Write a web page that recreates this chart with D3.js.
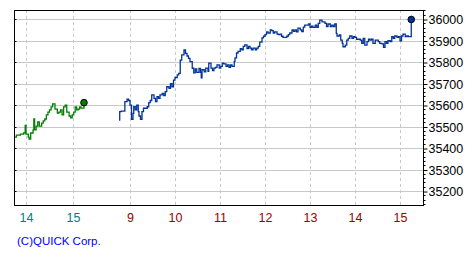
<!DOCTYPE html>
<html><head><meta charset="utf-8">
<script src="https://cdn.jsdelivr.net/npm/d3@7"></script>
<style>body{margin:0;background:#fff}svg{display:block}</style>
</head><body>
<script>
// Previous-day session (green)
const prevTimes = ["13:45","13:48","13:53","13:57","13:59","14:00","14:03","14:04","14:06","14:09","14:10","14:11","14:13","14:15","14:17","14:20","14:22","14:24","14:26","14:28","14:30","14:32","14:34","14:36","14:37","14:40","14:42","14:44","14:46","14:48","14:50","14:52","14:55","14:57","14:59","15:01","15:03","15:05","15:07","15:09","15:11","15:14","15:15"];
const prevValues = [35451,35460,35465,35470,35505,35465,35451,35442,35470,35484,35535,35484,35502,35521,35502,35516,35526,35535,35554,35567,35577,35591,35605,35605,35581,35563,35567,35577,35554,35591,35600,35567,35549,35540,35554,35567,35591,35577,35581,35591,35586,35586,35611];
// Current-day session (blue)
const dayTimes = ["8:45","8:46","8:48","8:53","8:56","8:58","9:00","9:02","9:04","9:05","9:07","9:09","9:11","9:12","9:14","9:16","9:18","9:20","9:23","9:25","9:27","9:29","9:32","9:34","9:36","9:38","9:40","9:43","9:45","9:47","9:49","9:52","9:54","9:56","9:58","10:00","10:03","10:05","10:07","10:09","10:12","10:14","10:16","10:18","10:20","10:23","10:25","10:27","10:29","10:32","10:34","10:35","10:36","10:39","10:41","10:44","10:45","10:48","10:50","10:52","10:54","10:56","10:59","11:01","11:03","11:05","11:08","11:10","11:12","11:14","11:16","11:19","11:20","11:22","11:24","11:27","11:29","11:31","11:33","11:36","11:38","11:40","11:42","11:44","11:47","11:49","11:51","11:53","11:56","11:58","12:00","12:02","12:04","12:07","12:09","12:11","12:13","12:16","12:18","12:20","12:22","12:24","12:27","12:29","12:31","12:33","12:36","12:38","12:40","12:42","12:44","12:47","12:49","12:51","12:53","12:56","12:58","13:00","13:02","13:04","13:07","13:09","13:11","13:13","13:16","13:18","13:20","13:22","13:24","13:27","13:29","13:31","13:33","13:35","13:36","13:39","13:41","13:43","13:44","13:47","13:49","13:51","13:53","13:56","13:58","14:00","14:02","14:04","14:07","14:09","14:11","14:13","14:16","14:18","14:20","14:22","14:24","14:27","14:29","14:31","14:33","14:36","14:38","14:40","14:42","14:44","14:47","14:49","14:51","14:53","14:56","14:58","15:00","15:02","15:04","15:07","15:09","15:11","15:14","15:15"];
const dayValues = [35530,35569,35572,35616,35627,35621,35600,35533,35561,35592,35577,35600,35569,35549,35533,35569,35585,35585,35592,35611,35621,35647,35631,35616,35639,35631,35647,35654,35644,35662,35685,35678,35700,35685,35716,35728,35740,35747,35809,35833,35856,35840,35828,35817,35802,35771,35750,35768,35752,35770,35752,35726,35764,35754,35772,35757,35795,35772,35760,35772,35775,35787,35772,35780,35795,35791,35780,35787,35775,35787,35780,35803,35819,35842,35850,35862,35857,35873,35880,35862,35873,35865,35857,35865,35857,35865,35873,35893,35912,35920,35927,35940,35935,35950,35946,35935,35940,35930,35927,35930,35920,35915,35915,35920,35927,35935,35950,35943,35950,35940,35958,35950,35942,35962,35972,35972,35977,35961,35967,35961,35972,35961,35980,35995,35987,35987,35980,35965,35977,35965,35972,35965,35977,35933,35921,35926,35902,35887,35871,35879,35902,35910,35921,35910,35918,35915,35906,35906,35902,35887,35910,35879,35895,35906,35902,35906,35887,35902,35902,35895,35887,35884,35868,35895,35887,35899,35895,35918,35910,35921,35915,35918,35899,35921,35930,35918,35921,35918,35918,35998];
const yTicks = [35200,35300,35400,35500,35600,35700,35800,35900,36000];
const prevTickTimes = ["14:00","15:00"];
const dayTickTimes = ["9:00","10:00","11:00","12:00","13:00","14:00","15:00"];
const copyright = "(C)QUICK Corp.";

const W = 475, H = 260;
const L = 14, R = 423, T = 10, B = 205;
const toMin = s => { const [h,m] = s.split(":").map(Number); return h*60+m; };
const prevMin = s => toMin(s) - 1440;

const svg = d3.select("body").append("svg").attr("width", W).attr("height", H);

const pw = R - L;
const x = d3.scaleLinear()
  .domain([prevMin("13:45"), prevMin("14:00"), prevMin("15:00"), prevMin("15:15"), toMin("8:45"), toMin("9:00"), toMin("15:00"), toMin("15:15")])
  .range([L, L + pw*0.0293, L + pw*0.1443, L + pw*0.1711, L + pw*0.2567, L + pw*0.2836, L + pw*0.9438, L + pw*0.9713]);
const y = d3.scaleLinear().domain([35135, 36042]).range([B, T]);

// horizontal grid
svg.append("g").selectAll("line").data(yTicks).join("line")
  .attr("x1", L).attr("x2", R)
  .attr("y1", d => Math.round(y(d)) + 0.5).attr("y2", d => Math.round(y(d)) + 0.5)
  .attr("stroke", "#c8c8c8").attr("stroke-width", 1);

// vertical dashed grid
const vt = prevTickTimes.map(prevMin).concat(dayTickTimes.map(toMin));
svg.append("g").selectAll("line").data(vt).join("line")
  .attr("x1", d => Math.round(x(d)) + 0.5).attr("x2", d => Math.round(x(d)) + 0.5)
  .attr("y1", T).attr("y2", B)
  .attr("stroke", "#c8c8c8").attr("stroke-width", 1).attr("stroke-dasharray", "3,3");

// lines
const line = d3.line().x(d => x(d[0])).y(d => y(d[1])).curve(d3.curveStepAfter);
const prevData = prevTimes.map((t,i) => [prevMin(t), prevValues[i]]);
const dayData = dayTimes.map((t,i) => [toMin(t), dayValues[i]]);
svg.append("path").datum(prevData).attr("d", line).attr("fill", "none")
  .attr("stroke", "#008000").attr("stroke-width", 1.3);
svg.append("path").datum(dayData).attr("d", line).attr("fill", "none")
  .attr("stroke", "#003399").attr("stroke-width", 1.3);

// end dots
const pl = prevData[prevData.length-1], dl = dayData[dayData.length-1];
svg.append("circle").attr("cx", x(pl[0])).attr("cy", y(pl[1])).attr("r", 3.3)
  .attr("fill", "#008000").attr("stroke", "#000").attr("stroke-width", 1);
svg.append("circle").attr("cx", x(dl[0])).attr("cy", y(dl[1])).attr("r", 3.3)
  .attr("fill", "#003399").attr("stroke", "#000").attr("stroke-width", 1);

// frame
svg.append("rect").attr("x", L + 0.5).attr("y", T + 0.5).attr("width", R - L).attr("height", B - T)
  .attr("fill", "none").attr("stroke", "#000").attr("stroke-width", 1);

// right axis
const yAxis = d3.axisRight(y).tickValues(yTicks).tickSize(4).tickPadding(1).tickFormat(d3.format("d"));
const ga = svg.append("g").attr("transform", `translate(${R + 0.5},0.5)`).call(yAxis);
ga.select(".domain").remove();
ga.selectAll("text").attr("font-family", "'Liberation Sans Narrow','Liberation Sans',sans-serif")
  .attr("font-size", 12.5).attr("fill", "#000").attr("dy", "0.35em");
const minor = d3.range(35140, 36041, 20).filter(v => v % 100 !== 0);
svg.append("g").selectAll("line").data(minor).join("line")
  .attr("x1", R + 0.5).attr("x2", R + 2.5)
  .attr("y1", d => Math.round(y(d)) + 0.5).attr("y2", d => Math.round(y(d)) + 0.5)
  .attr("stroke", "#000");
// left inner ticks
svg.append("g").selectAll("line").data(yTicks).join("line")
  .attr("x1", L).attr("x2", L + 2.5)
  .attr("y1", d => Math.round(y(d)) + 0.5).attr("y2", d => Math.round(y(d)) + 0.5)
  .attr("stroke", "#000");

// x labels
const xl = svg.append("g").attr("font-family", "'Liberation Sans Narrow','Liberation Sans',sans-serif").attr("font-size", 12.5).attr("text-anchor", "middle");
xl.selectAll("text.p").data(prevTickTimes).join("text").attr("class", "p")
  .attr("x", d => x(prevMin(d)) + 0.5).attr("y", 222).attr("fill", "#008080").text(d => d.split(":")[0]);
xl.selectAll("text.d").data(dayTickTimes).join("text").attr("class", "d")
  .attr("x", d => x(toMin(d)) + 0.5).attr("y", 222).attr("fill", "#990000").text(d => d.split(":")[0]);

svg.append("text").attr("x", 17).attr("y", 245).attr("font-family", "'Liberation Sans',sans-serif")
  .attr("font-size", 11.5).attr("fill", "#0000ff").text(copyright);
</script>
</body></html>
